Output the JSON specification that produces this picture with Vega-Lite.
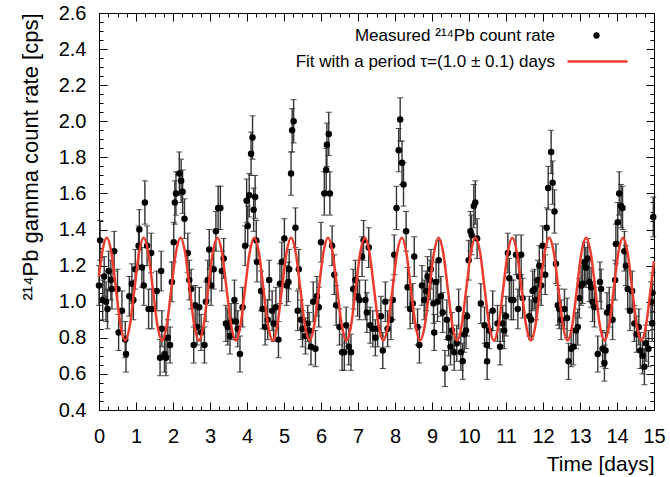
{
  "$schema": "https://vega.github.io/schema/vega-lite/v6.json",
  "width": 555,
  "height": 397,
  "autosize": {"type": "none"},
  "padding": {"left": 99, "top": 13, "right": 16, "bottom": 67},
  "config": {"font": "Liberation Sans", "view": {"stroke": "black", "strokeWidth": 1}},
  "datasets": {
    "meas": [
      {"t":0.00,"v":1.09,"e":0.11},{"t":0.03,"v":1.34,"e":0.11},{"t":0.10,"v":1.01,"e":0.11},{"t":0.14,"v":1.14,"e":0.11},{"t":0.19,"v":1.00,"e":0.11},{"t":0.23,"v":0.96,"e":0.11},{"t":0.26,"v":1.17,"e":0.11},{"t":0.32,"v":1.12,"e":0.11},{"t":0.35,"v":1.07,"e":0.11},{"t":0.41,"v":1.28,"e":0.11},
      {"t":0.50,"v":1.07,"e":0.11},{"t":0.53,"v":0.83,"e":0.10},{"t":0.62,"v":0.95,"e":0.11},{"t":0.71,"v":0.79,"e":0.10},{"t":0.73,"v":0.71,"e":0.10},{"t":0.82,"v":1.03,"e":0.11},{"t":0.89,"v":1.10,"e":0.11},{"t":0.93,"v":1.01,"e":0.11},{"t":0.98,"v":1.18,"e":0.11},{"t":1.07,"v":1.31,"e":0.11},
      {"t":1.09,"v":1.40,"e":0.11},{"t":1.16,"v":1.19,"e":0.11},{"t":1.21,"v":1.09,"e":0.11},{"t":1.24,"v":1.55,"e":0.12},{"t":1.30,"v":1.31,"e":0.11},{"t":1.34,"v":0.96,"e":0.11},{"t":1.41,"v":1.27,"e":0.11},{"t":1.43,"v":0.96,"e":0.11},{"t":1.56,"v":1.06,"e":0.11},{"t":1.65,"v":0.69,"e":0.10},
      {"t":1.68,"v":1.17,"e":0.11},{"t":1.70,"v":0.85,"e":0.10},{"t":1.77,"v":0.71,"e":0.10},{"t":1.81,"v":0.69,"e":0.10},{"t":1.86,"v":0.80,"e":0.10},{"t":1.92,"v":0.76,"e":0.10},{"t":1.97,"v":1.11,"e":0.11},{"t":2.02,"v":1.33,"e":0.11},{"t":2.05,"v":1.55,"e":0.12},{"t":2.08,"v":1.60,"e":0.12},
      {"t":2.17,"v":1.71,"e":0.12},{"t":2.22,"v":1.67,"e":0.12},{"t":2.26,"v":1.61,"e":0.12},{"t":2.31,"v":1.46,"e":0.11},{"t":2.40,"v":1.27,"e":0.11},{"t":2.44,"v":1.12,"e":0.11},{"t":2.49,"v":1.07,"e":0.11},{"t":2.56,"v":0.76,"e":0.10},{"t":2.60,"v":0.98,"e":0.11},{"t":2.65,"v":0.86,"e":0.10},
      {"t":2.71,"v":0.97,"e":0.11},{"t":2.76,"v":0.83,"e":0.10},{"t":2.85,"v":0.76,"e":0.10},{"t":2.89,"v":1.00,"e":0.11},{"t":2.94,"v":1.12,"e":0.11},{"t":2.98,"v":1.29,"e":0.11},{"t":3.03,"v":1.09,"e":0.11},{"t":3.10,"v":1.18,"e":0.11},{"t":3.16,"v":1.39,"e":0.11},{"t":3.22,"v":1.52,"e":0.12},
      {"t":3.28,"v":1.52,"e":0.12},{"t":3.32,"v":1.17,"e":0.11},{"t":3.37,"v":1.24,"e":0.11},{"t":3.43,"v":0.88,"e":0.10},{"t":3.48,"v":0.86,"e":0.10},{"t":3.54,"v":0.81,"e":0.10},{"t":3.57,"v":0.89,"e":0.10},{"t":3.66,"v":1.01,"e":0.11},{"t":3.70,"v":0.89,"e":0.10},{"t":3.75,"v":0.85,"e":0.10},
      {"t":3.81,"v":0.71,"e":0.10},{"t":3.88,"v":0.97,"e":0.11},{"t":3.95,"v":1.31,"e":0.11},{"t":3.99,"v":1.56,"e":0.12},{"t":4.02,"v":1.42,"e":0.11},{"t":4.06,"v":1.59,"e":0.12},{"t":4.11,"v":1.82,"e":0.12},{"t":4.15,"v":1.91,"e":0.12},{"t":4.18,"v":1.51,"e":0.12},{"t":4.22,"v":1.58,"e":0.12},
      {"t":4.25,"v":1.34,"e":0.11},{"t":4.27,"v":1.22,"e":0.11},{"t":4.38,"v":1.06,"e":0.11},{"t":4.42,"v":0.96,"e":0.11},{"t":4.49,"v":0.86,"e":0.10},{"t":4.56,"v":0.90,"e":0.11},{"t":4.60,"v":1.12,"e":0.11},{"t":4.68,"v":0.95,"e":0.11},{"t":4.72,"v":0.88,"e":0.10},{"t":4.78,"v":0.97,"e":0.11},
      {"t":4.85,"v":0.79,"e":0.10},{"t":4.89,"v":1.10,"e":0.11},{"t":4.94,"v":1.22,"e":0.11},{"t":5.01,"v":1.35,"e":0.11},{"t":5.07,"v":1.09,"e":0.11},{"t":5.12,"v":1.11,"e":0.11},{"t":5.14,"v":1.18,"e":0.11},{"t":5.19,"v":1.71,"e":0.12},{"t":5.22,"v":1.95,"e":0.12},{"t":5.26,"v":2.00,"e":0.12},
      {"t":5.31,"v":1.41,"e":0.11},{"t":5.37,"v":0.95,"e":0.11},{"t":5.40,"v":1.18,"e":0.11},{"t":5.46,"v":0.90,"e":0.11},{"t":5.50,"v":0.85,"e":0.10},{"t":5.58,"v":0.81,"e":0.10},{"t":5.64,"v":0.88,"e":0.10},{"t":5.68,"v":0.84,"e":0.10},{"t":5.73,"v":0.75,"e":0.10},{"t":5.79,"v":1.00,"e":0.11},
      {"t":5.85,"v":0.74,"e":0.10},{"t":5.89,"v":1.03,"e":0.11},{"t":5.94,"v":0.97,"e":0.11},{"t":6.00,"v":1.33,"e":0.11},{"t":6.09,"v":1.60,"e":0.12},{"t":6.14,"v":1.73,"e":0.12},{"t":6.16,"v":1.87,"e":0.12},{"t":6.21,"v":1.93,"e":0.12},{"t":6.24,"v":1.60,"e":0.12},{"t":6.30,"v":1.31,"e":0.11},
      {"t":6.36,"v":1.15,"e":0.11},{"t":6.41,"v":0.98,"e":0.11},{"t":6.50,"v":0.86,"e":0.10},{"t":6.57,"v":0.72,"e":0.10},{"t":6.63,"v":0.72,"e":0.10},{"t":6.68,"v":0.87,"e":0.10},{"t":6.75,"v":0.75,"e":0.10},{"t":6.81,"v":0.72,"e":0.10},{"t":6.87,"v":1.07,"e":0.11},{"t":6.93,"v":1.12,"e":0.11},
      {"t":6.99,"v":1.03,"e":0.11},{"t":7.04,"v":1.01,"e":0.11},{"t":7.11,"v":1.25,"e":0.11},{"t":7.15,"v":1.34,"e":0.11},{"t":7.20,"v":1.01,"e":0.11},{"t":7.24,"v":0.94,"e":0.11},{"t":7.29,"v":1.30,"e":0.11},{"t":7.33,"v":0.87,"e":0.10},{"t":7.40,"v":0.85,"e":0.10},{"t":7.47,"v":0.80,"e":0.10},
      {"t":7.53,"v":0.85,"e":0.10},{"t":7.62,"v":0.92,"e":0.11},{"t":7.67,"v":0.73,"e":0.10},{"t":7.74,"v":1.00,"e":0.11},{"t":7.80,"v":0.85,"e":0.10},{"t":7.89,"v":0.90,"e":0.11},{"t":7.94,"v":1.01,"e":0.11},{"t":7.98,"v":1.26,"e":0.11},{"t":8.04,"v":1.52,"e":0.12},{"t":8.10,"v":1.84,"e":0.12},
      {"t":8.14,"v":2.01,"e":0.12},{"t":8.19,"v":1.77,"e":0.12},{"t":8.23,"v":1.65,"e":0.12},{"t":8.30,"v":1.39,"e":0.11},{"t":8.34,"v":1.08,"e":0.11},{"t":8.41,"v":0.96,"e":0.11},{"t":8.48,"v":0.99,"e":0.11},{"t":8.52,"v":1.25,"e":0.11},{"t":8.61,"v":0.86,"e":0.10},{"t":8.66,"v":0.76,"e":0.10},
      {"t":8.73,"v":1.09,"e":0.11},{"t":8.79,"v":1.01,"e":0.11},{"t":8.84,"v":1.06,"e":0.11},{"t":8.88,"v":1.14,"e":0.11},{"t":8.95,"v":1.12,"e":0.11},{"t":8.97,"v":1.18,"e":0.11},{"t":9.04,"v":0.99,"e":0.11},{"t":9.06,"v":0.83,"e":0.10},{"t":9.11,"v":1.11,"e":0.11},{"t":9.15,"v":1.00,"e":0.11},
      {"t":9.18,"v":1.23,"e":0.11},{"t":9.24,"v":1.03,"e":0.11},{"t":9.29,"v":0.94,"e":0.11},{"t":9.35,"v":0.63,"e":0.10},{"t":9.40,"v":0.90,"e":0.11},{"t":9.45,"v":0.80,"e":0.10},{"t":9.50,"v":0.75,"e":0.10},{"t":9.54,"v":0.84,"e":0.10},{"t":9.60,"v":0.72,"e":0.10},{"t":9.67,"v":0.77,"e":0.10},
      {"t":9.72,"v":0.96,"e":0.11},{"t":9.78,"v":0.72,"e":0.10},{"t":9.83,"v":0.67,"e":0.10},{"t":9.87,"v":0.82,"e":0.10},{"t":9.92,"v":0.84,"e":0.10},{"t":9.95,"v":0.92,"e":0.11},{"t":9.99,"v":1.23,"e":0.11},{"t":10.04,"v":1.39,"e":0.11},{"t":10.07,"v":1.37,"e":0.11},{"t":10.13,"v":1.53,"e":0.12},
      {"t":10.17,"v":1.55,"e":0.12},{"t":10.22,"v":1.35,"e":0.11},{"t":10.32,"v":0.99,"e":0.11},{"t":10.42,"v":0.87,"e":0.10},{"t":10.48,"v":0.76,"e":0.10},{"t":10.49,"v":0.67,"e":0.10},{"t":10.55,"v":0.84,"e":0.10},{"t":10.64,"v":0.95,"e":0.11},{"t":10.77,"v":0.88,"e":0.10},{"t":10.84,"v":0.75,"e":0.10},
      {"t":10.91,"v":0.88,"e":0.10},{"t":10.95,"v":0.84,"e":0.10},{"t":11.00,"v":0.92,"e":0.11},{"t":11.05,"v":1.27,"e":0.11},{"t":11.09,"v":1.13,"e":0.11},{"t":11.14,"v":1.01,"e":0.11},{"t":11.20,"v":1.01,"e":0.11},{"t":11.27,"v":1.26,"e":0.11},{"t":11.32,"v":0.96,"e":0.11},{"t":11.36,"v":1.14,"e":0.11},
      {"t":11.41,"v":1.26,"e":0.11},{"t":11.45,"v":1.02,"e":0.11},{"t":11.63,"v":0.92,"e":0.11},{"t":11.68,"v":0.90,"e":0.11},{"t":11.72,"v":1.06,"e":0.11},{"t":11.77,"v":1.07,"e":0.11},{"t":11.81,"v":1.01,"e":0.11},{"t":11.86,"v":1.12,"e":0.11},{"t":11.90,"v":1.20,"e":0.11},{"t":11.95,"v":1.09,"e":0.11},
      {"t":11.99,"v":1.31,"e":0.11},{"t":12.06,"v":1.15,"e":0.11},{"t":12.10,"v":1.41,"e":0.11},{"t":12.14,"v":1.63,"e":0.12},{"t":12.22,"v":1.83,"e":0.12},{"t":12.26,"v":1.66,"e":0.12},{"t":12.31,"v":1.50,"e":0.12},{"t":12.35,"v":1.21,"e":0.11},{"t":12.40,"v":0.98,"e":0.11},{"t":12.44,"v":0.96,"e":0.11},
      {"t":12.49,"v":0.90,"e":0.11},{"t":12.58,"v":0.96,"e":0.11},{"t":12.65,"v":0.91,"e":0.11},{"t":12.69,"v":0.67,"e":0.10},{"t":12.76,"v":0.74,"e":0.10},{"t":12.82,"v":0.75,"e":0.10},{"t":12.89,"v":0.84,"e":0.10},{"t":12.94,"v":0.86,"e":0.10},{"t":12.98,"v":1.02,"e":0.11},{"t":13.03,"v":1.09,"e":0.11},
      {"t":13.07,"v":1.10,"e":0.11},{"t":13.12,"v":1.22,"e":0.11},{"t":13.16,"v":1.19,"e":0.11},{"t":13.21,"v":1.24,"e":0.11},{"t":13.25,"v":1.11,"e":0.11},{"t":13.30,"v":1.08,"e":0.11},{"t":13.34,"v":1.00,"e":0.11},{"t":13.39,"v":0.97,"e":0.11},{"t":13.48,"v":0.71,"e":0.10},{"t":13.54,"v":1.11,"e":0.11},
      {"t":13.57,"v":1.07,"e":0.11},{"t":13.61,"v":0.74,"e":0.10},{"t":13.66,"v":0.66,"e":0.10},{"t":13.69,"v":0.73,"e":0.10},{"t":13.73,"v":0.94,"e":0.11},{"t":13.79,"v":0.97,"e":0.11},{"t":13.88,"v":0.90,"e":0.11},{"t":13.95,"v":1.12,"e":0.11},{"t":13.97,"v":1.32,"e":0.11},{"t":14.02,"v":1.44,"e":0.11},
      {"t":14.06,"v":1.60,"e":0.12},{"t":14.11,"v":1.53,"e":0.12},{"t":14.15,"v":1.52,"e":0.12},{"t":14.20,"v":1.28,"e":0.11},{"t":14.24,"v":1.20,"e":0.11},{"t":14.29,"v":1.07,"e":0.11},{"t":14.35,"v":0.95,"e":0.11},{"t":14.41,"v":1.06,"e":0.11},{"t":14.47,"v":0.88,"e":0.10},{"t":14.53,"v":0.82,"e":0.10},
      {"t":14.59,"v":0.86,"e":0.10},{"t":14.63,"v":0.73,"e":0.10},{"t":14.69,"v":0.70,"e":0.10},{"t":14.74,"v":0.64,"e":0.10},{"t":14.78,"v":0.77,"e":0.10},{"t":14.85,"v":0.74,"e":0.10},{"t":14.92,"v":1.00,"e":0.11},{"t":14.95,"v":0.88,"e":0.10},{"t":14.96,"v":1.05,"e":0.11},{"t":14.98,"v":1.47,"e":0.11}
    ],
    "fit": [
      {"t":0,"v":1.141},{"t":0.085,"v":1.272},
      {"t":0.210,"v":1.355},{"t":0.335,"v":1.272},{"t":0.459,"v":1.07},{"t":0.584,"v":0.868},{"t":0.708,"v":0.785},{"t":0.833,"v":0.868},{"t":0.958,"v":1.07},{"t":1.082,"v":1.272},
      {"t":1.207,"v":1.355},{"t":1.331,"v":1.272},{"t":1.456,"v":1.07},{"t":1.580,"v":0.868},{"t":1.705,"v":0.785},{"t":1.830,"v":0.868},{"t":1.954,"v":1.07},{"t":2.079,"v":1.272},
      {"t":2.203,"v":1.355},{"t":2.328,"v":1.272},{"t":2.452,"v":1.07},{"t":2.577,"v":0.868},{"t":2.701,"v":0.785},{"t":2.826,"v":0.868},{"t":2.951,"v":1.07},{"t":3.075,"v":1.272},
      {"t":3.200,"v":1.355},{"t":3.324,"v":1.272},{"t":3.449,"v":1.07},{"t":3.573,"v":0.868},{"t":3.698,"v":0.785},{"t":3.823,"v":0.868},{"t":3.947,"v":1.07},{"t":4.072,"v":1.272},
      {"t":4.196,"v":1.355},{"t":4.321,"v":1.272},{"t":4.445,"v":1.07},{"t":4.570,"v":0.868},{"t":4.694,"v":0.785},{"t":4.819,"v":0.868},{"t":4.944,"v":1.07},{"t":5.068,"v":1.272},
      {"t":5.193,"v":1.355},{"t":5.317,"v":1.272},{"t":5.442,"v":1.07},{"t":5.566,"v":0.868},{"t":5.691,"v":0.785},{"t":5.816,"v":0.868},{"t":5.940,"v":1.07},{"t":6.065,"v":1.272},
      {"t":6.189,"v":1.355},{"t":6.314,"v":1.272},{"t":6.438,"v":1.07},{"t":6.563,"v":0.868},{"t":6.687,"v":0.785},{"t":6.812,"v":0.868},{"t":6.937,"v":1.07},{"t":7.061,"v":1.272},
      {"t":7.186,"v":1.355},{"t":7.310,"v":1.272},{"t":7.435,"v":1.07},{"t":7.559,"v":0.868},{"t":7.684,"v":0.785},{"t":7.809,"v":0.868},{"t":7.933,"v":1.07},{"t":8.058,"v":1.272},
      {"t":8.182,"v":1.355},{"t":8.307,"v":1.272},{"t":8.431,"v":1.07},{"t":8.556,"v":0.868},{"t":8.680,"v":0.785},{"t":8.805,"v":0.868},{"t":8.930,"v":1.07},{"t":9.054,"v":1.272},
      {"t":9.179,"v":1.355},{"t":9.303,"v":1.272},{"t":9.428,"v":1.07},{"t":9.552,"v":0.868},{"t":9.677,"v":0.785},{"t":9.802,"v":0.868},{"t":9.926,"v":1.07},{"t":10.051,"v":1.272},
      {"t":10.175,"v":1.355},{"t":10.300,"v":1.272},{"t":10.424,"v":1.07},{"t":10.549,"v":0.868},{"t":10.673,"v":0.785},{"t":10.798,"v":0.868},{"t":10.923,"v":1.07},{"t":11.047,"v":1.272},
      {"t":11.172,"v":1.355},{"t":11.296,"v":1.272},{"t":11.421,"v":1.07},{"t":11.545,"v":0.868},{"t":11.670,"v":0.785},{"t":11.795,"v":0.868},{"t":11.919,"v":1.07},{"t":12.044,"v":1.272},
      {"t":12.168,"v":1.355},{"t":12.293,"v":1.272},{"t":12.417,"v":1.07},{"t":12.542,"v":0.868},{"t":12.666,"v":0.785},{"t":12.791,"v":0.868},{"t":12.916,"v":1.07},{"t":13.040,"v":1.272},
      {"t":13.165,"v":1.355},{"t":13.289,"v":1.272},{"t":13.414,"v":1.07},{"t":13.538,"v":0.868},{"t":13.663,"v":0.785},{"t":13.788,"v":0.868},{"t":13.912,"v":1.07},{"t":14.037,"v":1.272},
      {"t":14.161,"v":1.355},{"t":14.286,"v":1.272},{"t":14.410,"v":1.07},{"t":14.535,"v":0.868},{"t":14.659,"v":0.785},{"t":14.784,"v":0.868},{"t":14.909,"v":1.07},{"t":15,"v":1.226}
    ]
  },
  "layer": [
    {
      "data": {"name": "meas"},
      "mark": {"type": "errorbar", "ticks": {"size": 6, "color": "black", "strokeWidth": 1}, "rule": {"color": "#333333", "strokeWidth": 1.4}},
      "encoding": {
        "x": {"field": "t", "type": "quantitative",
          "scale": {"domain": [0, 15], "nice": false, "zero": false},
          "axis": {"orient": "bottom", "title": "Time [days]", "titleAnchor": "end", "titleFontSize": 21, "titleFontWeight": "normal", "titleColor": "black", "titlePadding": 3,
            "values": [0,0.25,0.5,0.75,1,1.25,1.5,1.75,2,2.25,2.5,2.75,3,3.25,3.5,3.75,4,4.25,4.5,4.75,5,5.25,5.5,5.75,6,6.25,6.5,6.75,7,7.25,7.5,7.75,8,8.25,8.5,8.75,9,9.25,9.5,9.75,10,10.25,10.5,10.75,11,11.25,11.5,11.75,12,12.25,12.5,12.75,13,13.25,13.5,13.75,14,14.25,14.5,14.75,15],
            "labelExpr": "abs(datum.value - round(datum.value)) < 0.01 ? format(datum.value, 'd') : ''",
            "labelOverlap": false, "labelFlush": false, "labelFontSize": 20, "labelColor": "black", "labelPadding": 24,
            "tickSize": {"condition": {"test": "abs(datum.value - round(datum.value)) < 0.01", "value": -8}, "value": -4},
            "tickColor": "black", "domainColor": "black", "grid": false}
        },
        "y": {"field": "v", "type": "quantitative",
          "scale": {"domain": [0.4, 2.6], "nice": false, "zero": false},
          "axis": {"orient": "left", "title": "²¹⁴Pb gamma count rate [cps]", "titleAnchor": "end", "titleFontSize": 22, "titleFontWeight": "normal", "titleColor": "black", "titlePadding": 16,
            "values": [0.4,0.45,0.5,0.55,0.6,0.65,0.7,0.75,0.8,0.85,0.9,0.95,1,1.05,1.1,1.15,1.2,1.25,1.3,1.35,1.4,1.45,1.5,1.55,1.6,1.65,1.7,1.75,1.8,1.85,1.9,1.95,2,2.05,2.1,2.15,2.2,2.25,2.3,2.35,2.4,2.45,2.5,2.55,2.6],
            "labelExpr": "abs(datum.value*5 - round(datum.value*5)) < 0.01 ? format(datum.value, '.1f') : ''",
            "labelOverlap": false, "labelFlush": false, "labelFontSize": 20, "labelColor": "black", "labelPadding": 21,
            "tickSize": {"condition": {"test": "abs(datum.value*5 - round(datum.value*5)) < 0.01", "value": -8}, "value": -4},
            "tickColor": "black", "domainColor": "black", "grid": false}
        },
        "yError": {"field": "e"}
      }
    },
    {
      "data": {"name": "meas"},
      "mark": {"type": "point", "filled": true, "size": 42, "opacity": 1},
      "encoding": {
        "x": {"field": "t", "type": "quantitative",
          "axis": {"orient": "top", "title": null, "labels": false,
            "values": [0,0.25,0.5,0.75,1,1.25,1.5,1.75,2,2.25,2.5,2.75,3,3.25,3.5,3.75,4,4.25,4.5,4.75,5,5.25,5.5,5.75,6,6.25,6.5,6.75,7,7.25,7.5,7.75,8,8.25,8.5,8.75,9,9.25,9.5,9.75,10,10.25,10.5,10.75,11,11.25,11.5,11.75,12,12.25,12.5,12.75,13,13.25,13.5,13.75,14,14.25,14.5,14.75,15],
            "tickSize": {"condition": {"test": "abs(datum.value - round(datum.value)) < 0.01", "value": -8}, "value": -4},
            "tickColor": "black", "domainColor": "black", "grid": false}
        },
        "y": {"field": "v", "type": "quantitative",
          "axis": {"orient": "right", "title": null, "labels": false,
            "values": [0.4,0.45,0.5,0.55,0.6,0.65,0.7,0.75,0.8,0.85,0.9,0.95,1,1.05,1.1,1.15,1.2,1.25,1.3,1.35,1.4,1.45,1.5,1.55,1.6,1.65,1.7,1.75,1.8,1.85,1.9,1.95,2,2.05,2.1,2.15,2.2,2.25,2.3,2.35,2.4,2.45,2.5,2.55,2.6],
            "tickSize": {"condition": {"test": "abs(datum.value*5 - round(datum.value*5)) < 0.01", "value": -8}, "value": -4},
            "tickColor": "black", "domainColor": "black", "grid": false}
        },
        "color": {"datum": "Measured ²¹⁴Pb count rate", "type": "nominal",
          "scale": {"range": ["black"]},
          "legend": {"orient": "none", "legendX": 489, "legendY": 14, "title": null, "padding": 0, "labelAlign": "right", "labelOffset": -50, "labelFontSize": 17, "labelColor": "black", "labelLimit": 400, "symbolSize": 40}
        }
      }
    },
    {
      "data": {"name": "fit"},
      "mark": {"type": "line", "strokeWidth": 2.5, "interpolate": "monotone"},
      "encoding": {
        "x": {"field": "t", "type": "quantitative", "axis": null},
        "y": {"field": "v", "type": "quantitative", "axis": null},
        "color": {"datum": "Fit with a period τ=(1.0 ± 0.1) days", "type": "nominal",
          "scale": {"range": ["#ee3b2d"]},
          "legend": {"orient": "none", "legendX": 467, "legendY": 17, "title": null, "padding": 0, "labelAlign": "right", "labelOffset": -74, "labelFontSize": 17, "labelColor": "black", "labelLimit": 400, "symbolSize": 3600, "symbolStrokeWidth": 2.5}
        }
      }
    }
  ],
  "resolve": {
    "scale": {"color": "independent"},
    "legend": {"color": "independent"},
    "axis": {"x": "independent", "y": "independent"}
  }
}
